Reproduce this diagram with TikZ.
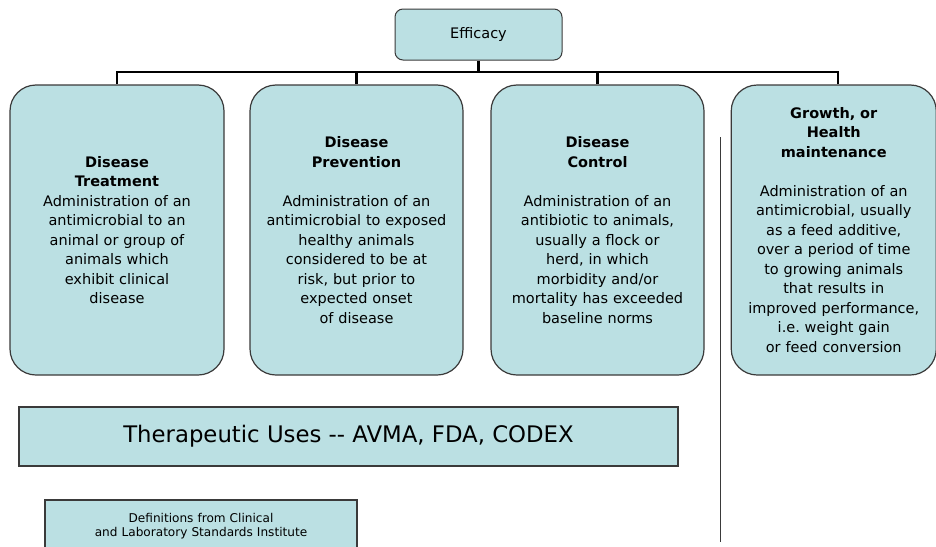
\documentclass[tikz,border=0pt]{standalone}
\usepackage{fontspec}
\setmainfont{DejaVu Sans}
\definecolor{boxfill}{HTML}{BBE0E3}
\definecolor{edge}{HTML}{3A3A3A}
\tikzset{
  bigbox/.style={draw=edge, fill=boxfill, line width=1.2pt, rounded corners=26pt,
    minimum height=290pt, inner sep=0pt, text width=205pt, align=center,
    font=\fontsize{14.5}{19.5}\selectfont},
  topbox/.style={draw=edge, fill=boxfill, line width=1pt, rounded corners=8pt,
    minimum width=167pt, minimum height=51pt, inner sep=0pt,
    font=\fontsize{14.5}{17}\selectfont},
  flatbox/.style={draw=edge, fill=boxfill, line width=1.3pt, inner sep=0pt, align=center},
  busline/.style={draw=black, line width=2.2pt},
  sepline/.style={draw=edge, line width=1pt}
}
\begin{document}
\begin{tikzpicture}[x=1pt,y=-1pt]
\useasboundingbox (0,0) rectangle (936,546);
\clip (0,0) rectangle (936,546);

\node[topbox] (eff) at (478.5,34.5) {Efficacy};

\node[bigbox, minimum width=214pt] (b1) at (117,230)
  {{\bfseries Disease\\Treatment}\\Administration of an\\antimicrobial to an\\animal or group of\\animals which\\exhibit clinical\\disease};
\node[bigbox, minimum width=213pt] (b2) at (356.5,230)
  {{\bfseries Disease\\Prevention}\\[19.5pt]Administration of an\\antimicrobial to exposed\\healthy animals\\considered to be at\\risk, but prior to\\expected onset\\of disease};
\node[bigbox, minimum width=213pt] (b3) at (597.5,230)
  {{\bfseries Disease\\Control}\\[19.5pt]Administration of an\\antibiotic to animals,\\usually a flock or\\herd, in which\\morbidity and/or\\mortality has exceeded\\baseline norms};
\node[bigbox, minimum width=203.5pt] (b4) at (833.75,230)
  {{\bfseries Growth, or\\Health\\maintenance}\\[19.5pt]Administration of an\\antimicrobial, usually\\as a feed additive,\\over a period of time\\to growing animals\\that results in\\improved performance,\\i.e.\ weight gain\\or feed conversion};

\node[flatbox, minimum width=659pt, minimum height=59pt,
  font=\fontsize{22.8}{26}\selectfont] (ther) at (348.5,436.5)
  {Therapeutic Uses -{}- AVMA, FDA, CODEX};

\node[flatbox, minimum width=312pt, minimum height=52pt, text width=300pt,
  font=\fontsize{12.1}{14}\selectfont] (defs) at (201,526)
  {Definitions from Clinical\\and Laboratory Standards Institute};

\coordinate (bus) at (478.5,72);
\draw[busline] (eff.south) -- (bus);
\draw[busline] (b1.north) |- (bus);
\draw[busline] (b2.north) |- (bus);
\draw[busline] (b3.north) |- (bus);
\draw[busline] ([xshift=4.25pt]b4.north) |- (bus);

\coordinate (septop) at (720,137);
\coordinate (sepbot) at (720,542);
\draw[sepline] (septop) -- (sepbot);
\end{tikzpicture}
\end{document}
